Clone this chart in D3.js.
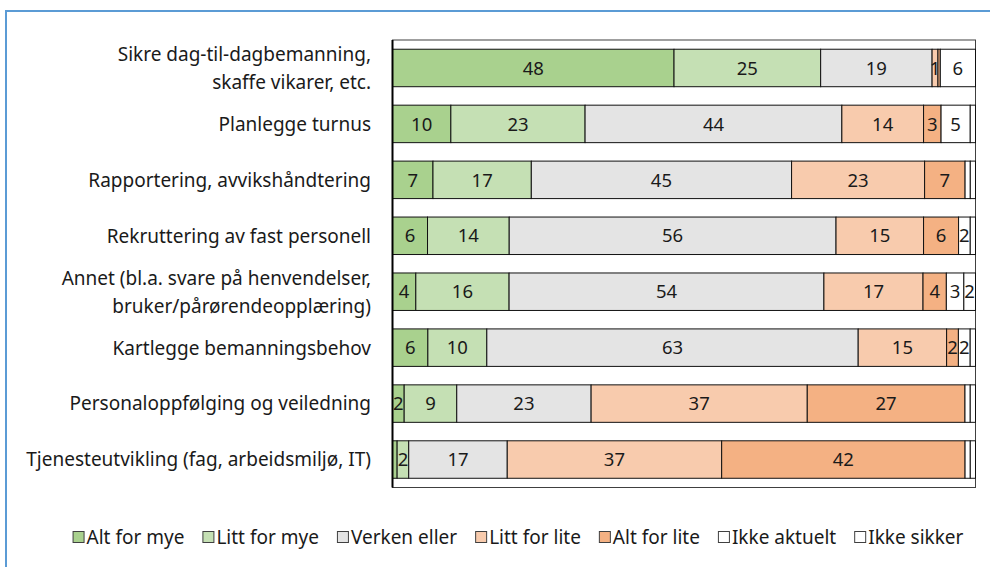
<!DOCTYPE html>
<html>
<head>
<meta charset="utf-8">
<script src="https://cdn.jsdelivr.net/npm/d3@7"></script>
<style>
  html, body { margin: 0; padding: 0; background: #fff; }
  svg text { font-family: "Noto Sans", Lato, sans-serif; fill: #1a1a1a; }
</style>
</head>
<body>
<svg id="canvas" width="990" height="567"></svg>
<script>
'use strict';

// categories, top to bottom (\n = line break)
const categories = [
    'Sikre dag-til-dagbemanning,\nskaffe vikarer, etc.',
    'Planlegge turnus',
    'Rapportering, avvikshåndtering',
    'Rekruttering av fast personell',
    'Annet (bl.a. svare på henvendelser,\nbruker/pårørendeopplæring)',
    'Kartlegge bemanningsbehov',
    'Personaloppfølging og veiledning',
    'Tjenesteutvikling (fag, arbeidsmiljø, IT)'
];

const seriesNames = ['Alt for mye', 'Litt for mye', 'Verken eller', 'Litt for lite',
    'Alt for lite', 'Ikke aktuelt', 'Ikke sikker'];
const seriesColors = ['#a9d18e', '#c5e0b4', '#e4e4e4', '#f8cbad', '#f4b183', '#ffffff', '#ffffff'];

// percent per category, same order as categories
const altForMye   = [48, 10,  7,  6,  4,  6,  2, 0.8];
const littForMye  = [25, 23, 17, 14, 16, 10,  9,  2];
const verkenEller = [19, 44, 45, 56, 54, 63, 23, 17];
const littForLite = [ 1, 14, 23, 15, 17, 15, 37, 37];
const altForLite  = [0.4, 3,  7,  6,  4,  2, 27, 42];
const ikkeAktuelt = [ 6,  5, 0.9, 2,  3,  2, 0.9, 0.9];
const ikkeSikker  = [ 0, 0.9, 0.9, 0.9, 2, 0.9, 0.9, 0.9];

const seriesValues = [altForMye, littForMye, verkenEller, littForLite, altForLite, ikkeAktuelt, ikkeSikker];

document.addEventListener('DOMContentLoaded', function() {
    const svg = d3.select('#canvas');

    const plot = { left: 392.5, right: 975.5, top: 40, bottom: 487.5 };

    // outer chart frame (only top and left edges are visible)
    svg.append('path')
        .attr('d', 'M6,567 V11 H990')
        .attr('fill', 'none')
        .attr('stroke', '#5b9bd5')
        .attr('stroke-width', 2);

    const rows = categories.map(function(c, i) {
        const row = { cat: c };
        seriesNames.forEach(function(s, j) { row[s] = seriesValues[j][i]; });
        return row;
    });

    const stack = d3.stack()
        .keys(seriesNames)
        .offset(d3.stackOffsetExpand);
    const layers = stack(rows);

    const x = d3.scaleLinear()
        .domain([0, 1])
        .range([plot.left, plot.right]);

    const y = d3.scaleBand()
        .domain(categories)
        .range([plot.top, plot.bottom])
        .paddingInner(0.33)
        .paddingOuter(0.165);

    // plot area border
    svg.append('rect')
        .attr('x', plot.left)
        .attr('y', plot.top)
        .attr('width', plot.right - plot.left)
        .attr('height', plot.bottom - plot.top)
        .attr('fill', 'none')
        .attr('stroke', '#404040')
        .attr('stroke-width', 1);

    const groups = svg.append('g').attr('class', 'bars')
        .selectAll('g')
        .data(layers)
        .enter().append('g')
            .attr('fill', function(d, i) { return seriesColors[i]; });

    groups.selectAll('rect')
        .data(function(d) { return d; })
        .enter().append('rect')
            .attr('x', function(d) { return x(d[0]); })
            .attr('y', function(d) { return y(d.data.cat); })
            .attr('width', function(d) { return x(d[1]) - x(d[0]); })
            .attr('height', y.bandwidth())
            .attr('stroke', '#111')
            .attr('stroke-width', 1);

    // data labels
    groups.each(function(layer, j) {
        d3.select(this).selectAll('text')
            .data(layer.filter(function(d) { return d.data[layer.key] >= 1; }))
            .enter().append('text')
                .attr('x', function(d) { return (x(d[0]) + x(d[1])) / 2; })
                .attr('y', function(d) { return y(d.data.cat) + y.bandwidth() / 2; })
                .attr('dy', '0.36em')
                .attr('text-anchor', 'middle')
                .style('font-size', '18.5px')
                .style('fill', '#1a1a1a')
                .text(function(d) { return Math.round(d.data[layer.key]); });
    });

    // left axis line
    svg.append('line')
        .attr('x1', plot.left).attr('x2', plot.left)
        .attr('y1', plot.top).attr('y2', plot.bottom)
        .attr('stroke', '#000')
        .attr('stroke-width', 2);

    // category labels
    const catLabels = svg.append('g').attr('class', 'categories')
        .selectAll('text')
        .data(categories)
        .enter().append('text')
            .attr('text-anchor', 'end')
            .style('font-size', '19px')
            .attr('transform', function(d) {
                return 'translate(371,' + (y(d) + y.bandwidth() / 2) + ')';
            });

    catLabels.each(function(d) {
        const lines = d.split('\n');
        const lh = 28;
        const start = -(lines.length - 1) * lh / 2;
        d3.select(this).selectAll('tspan')
            .data(lines)
            .enter().append('tspan')
                .attr('x', 0)
                .attr('y', function(l, i) { return start + i * lh; })
                .attr('dy', '0.36em')
                .text(function(l) { return l; });
    });

    // legend
    const legend = svg.append('g').attr('class', 'legend');
    const box = 11, gapText = 3, gapItem = 18;
    let lx = 0;
    seriesNames.forEach(function(name, i) {
        const item = legend.append('g').attr('transform', 'translate(' + lx + ',0)');
        item.append('rect')
            .attr('x', 0.5).attr('y', -box / 2)
            .attr('width', box).attr('height', box)
            .attr('fill', seriesColors[i])
            .attr('stroke', '#404040')
            .attr('stroke-width', 1);
        const t = item.append('text')
            .attr('x', box + gapText)
            .attr('dy', '0.36em')
            .style('font-size', '19px')
            .text(name);
        lx += box + gapText + t.node().getComputedTextLength() + gapItem;
    });
    const legendWidth = lx - gapItem;
    legend.attr('transform', 'translate(' + (518 - legendWidth / 2) + ',537)');
}, false);
</script>
</body>
</html>
